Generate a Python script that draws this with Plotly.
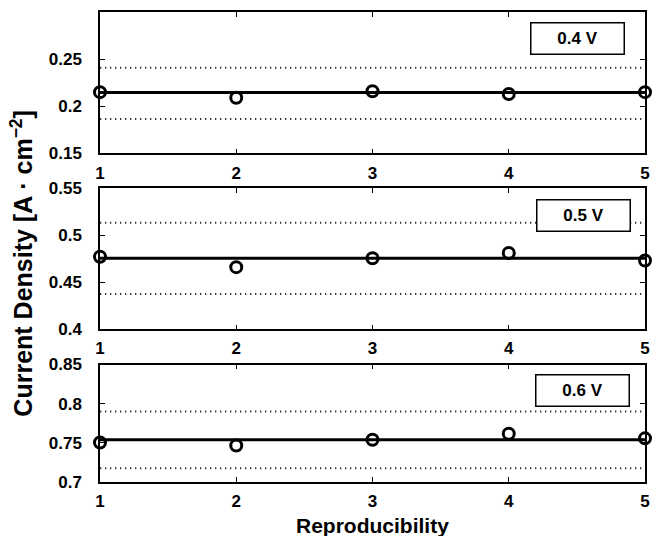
import plotly.graph_objects as go

runs = [1, 2, 3, 4, 5]
labels = ["0.4 V", "0.5 V", "0.6 V"]
density_04 = [0.215, 0.209, 0.216, 0.213, 0.215]
density_05 = [0.477, 0.466, 0.4755, 0.481, 0.473]
density_06 = [0.7504, 0.7466, 0.754, 0.7616, 0.7557]
mean_vals = [0.2145, 0.4755, 0.754]
upper_vals = [0.2408, 0.513, 0.790]
lower_vals = [0.1865, 0.4374, 0.7175]
y_ranges = [[0.15, 0.30], [0.40, 0.55], [0.70, 0.85]]
y_ticks = [[0.15, 0.2, 0.25], [0.4, 0.45, 0.5, 0.55], [0.7, 0.75, 0.8, 0.85]]
y_ticktext = [["0.15", "0.2", "0.25"], ["0.4", "0.45", "0.5", "0.55"], ["0.7", "0.75", "0.8", "0.85"]]
series = [density_04, density_05, density_06]

W, H = 653, 536
ml, mr, mt, mb = 100, 3, 10, 54
FONT = "Liberation Sans, Arial, sans-serif"

fig = go.Figure()
plot_h = H - mt - mb
plot_w = W - ml - mr
spans = [(10, 152), (186.7, 328.7), (364, 482)]
domains = [[(482 - b) / plot_h, (482 - t) / plot_h] for t, b in spans]

box_pos = [(4.502, 0.272), (4.549, 0.5207), (4.538, 0.8173)]

for i in range(3):
    xa = "x" if i == 0 else f"x{i+1}"
    ya = "y" if i == 0 else f"y{i+1}"
    x0, x1 = runs[0], runs[-1]
    for v in (upper_vals[i], lower_vals[i]):
        fig.add_trace(go.Scatter(x=[x0, x1], y=[v, v], mode="lines",
                                 line=dict(color="#333", width=2, dash="1.3px,3.7px"),
                                 xaxis=xa, yaxis=ya, showlegend=False, hoverinfo="skip"))
    fig.add_trace(go.Scatter(x=[x0, x1], y=[mean_vals[i]] * 2, mode="lines",
                             line=dict(color="black", width=3),
                             xaxis=xa, yaxis=ya, showlegend=False, hoverinfo="skip"))
    fig.add_trace(go.Scatter(x=runs, y=series[i], mode="markers", cliponaxis=False,
                             marker=dict(symbol="circle-open", size=11, color="black",
                                         line=dict(width=3, color="black")),
                             xaxis=xa, yaxis=ya, showlegend=False))
    axis_common = dict(showline=True, linecolor="black", linewidth=1.5, mirror="ticks",
                       ticks="inside", ticklen=5, tickwidth=1.2, tickcolor="black",
                       showgrid=False, zeroline=False,
                       tickfont=dict(family=FONT, size=17, color="black", weight="bold"))
    fig.layout[("xaxis" if i == 0 else f"xaxis{i+1}")] = dict(
        range=[1, 5], domain=[0, 1], anchor=ya, tickvals=runs,
        ticktext=[str(r) for r in runs], ticklabelstandoff=3, **axis_common)
    fig.layout[("yaxis" if i == 0 else f"yaxis{i+1}")] = dict(
        range=y_ranges[i], domain=domains[i], anchor=xa, tickvals=y_ticks[i],
        ticktext=y_ticktext[i], ticklabelstandoff=13, **axis_common)
    bx, by = box_pos[i]
    fig.add_annotation(x=bx, y=by, xref=xa, yref=ya, text="<b>" + labels[i] + "</b>",
                       showarrow=False, width=92, height=30, borderpad=0,
                       bordercolor="black", borderwidth=1.5, bgcolor="white",
                       font=dict(family=FONT, size=17, color="black"))

fig.add_annotation(x=(375 - ml) / plot_w, y=(482 - 526) / plot_h, xref="paper", yref="paper",
                   text="<b>Reproducibility</b>", showarrow=False,
                   xanchor="center", yanchor="middle",
                   font=dict(family=FONT, size=21, color="black"))
fig.add_annotation(x=(21 - ml) / plot_w, y=(482 - 262) / plot_h, xref="paper", yref="paper",
                   text="<b>Current Density [A · cm<sup>−2</sup>]</b>", textangle=-90,
                   showarrow=False, xanchor="center", yanchor="middle",
                   font=dict(family=FONT, size=25, color="black"))

fig.update_layout(width=W, height=H, margin=dict(l=ml, r=mr, t=mt, b=mb),
                  paper_bgcolor="white", plot_bgcolor="white")
fig.write_html("out.html")
